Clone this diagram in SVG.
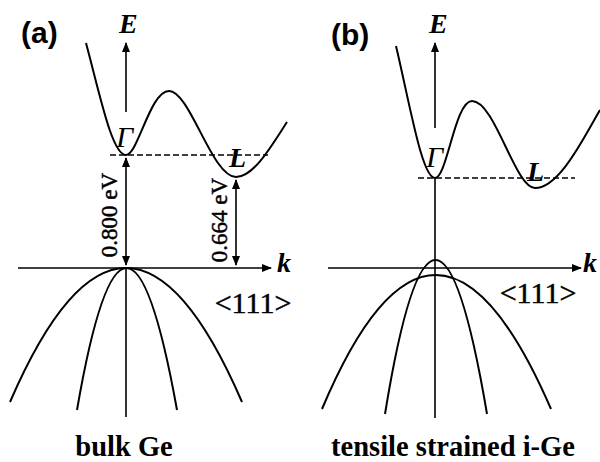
<svg xmlns="http://www.w3.org/2000/svg" width="600" height="462" viewBox="0 0 600 462">
<style>
.crv{fill:none;stroke:#000;stroke-width:2}
.ax{fill:none;stroke:#000;stroke-width:1.6}
.dash{fill:none;stroke:#000;stroke-width:1.3;stroke-dasharray:6 3}
.ser{font-family:'Liberation Serif','Times New Roman',Times,serif;fill:#000}
.hv{stroke:#000;stroke-width:0.5}
.it{font-style:italic}
.bd{font-weight:bold}
.lab{font-family:'Liberation Sans',Arial,sans-serif;font-weight:bold;font-size:30px;fill:#000}
</style>
<defs>
<marker id="ah" viewBox="0 0 10 8" refX="9" refY="4" markerWidth="10" markerHeight="8" markerUnits="userSpaceOnUse" orient="auto-start-reverse">
<path d="M0,0 L10,4 L0,8 Z" fill="#000"/>
</marker>
</defs>
<rect width="600" height="462" fill="#fff"/>

<g id="panel-a">
<text class="lab" x="21" y="43">(a)</text>
<g id="axes-a">
<line class="ax" x1="126" y1="112" x2="126" y2="43" marker-end="url(#ah)"/>
<line class="ax" x1="126" y1="268" x2="126" y2="417"/>
<line class="ax" x1="18" y1="268" x2="271" y2="268" marker-end="url(#ah)"/>
<text class="ser it bd" x="119" y="33" font-size="28">E</text>
<text class="ser it bd" x="277" y="272" font-size="28">k</text>
<text class="ser hv" x="253" y="313" font-size="30" text-anchor="middle">&lt;111&gt;</text>
</g>
<path class="crv" d="M86,43 C100,95 112,155 126,155 C138,155 150,91 169,91 C190,91 212,177 236,177 C254,177 272,145 287,122"/>
<line class="dash" x1="110" y1="155" x2="268" y2="155"/>
<text class="ser it" x="116" y="147" font-size="30">Γ</text>
<text class="ser it bd" x="229" y="167" font-size="28">L</text>
<g id="arrows-a">
<line class="ax" x1="126" y1="158" x2="126" y2="265" marker-start="url(#ah)" marker-end="url(#ah)"/>
<line class="ax" x1="236" y1="180" x2="236" y2="265" marker-start="url(#ah)" marker-end="url(#ah)"/>
</g>
<text class="ser hv" transform="translate(117,215) rotate(-90)" font-size="23" text-anchor="middle">0.800 eV</text>
<text class="ser hv" transform="translate(227,220) rotate(-90)" font-size="23" text-anchor="middle">0.664 eV</text>
<path class="crv" d="M10,402 Q126,134 242,402"/>
<path class="crv" d="M77,410 Q126,126 177,410"/>
<text class="ser bd" x="124" y="456" font-size="28.5" text-anchor="middle">bulk Ge</text>
</g>

<g id="panel-b">
<text class="lab" x="331" y="45">(b)</text>
<g id="axes-b">
<line class="ax" x1="435" y1="128" x2="435" y2="43" marker-end="url(#ah)"/>
<line class="ax" x1="435" y1="178" x2="435" y2="418"/>
<line class="ax" x1="328" y1="268" x2="581" y2="268" marker-end="url(#ah)"/>
<text class="ser it bd" x="429" y="33" font-size="28">E</text>
<text class="ser it bd" x="583" y="272" font-size="28">k</text>
<text class="ser hv" x="538" y="303" font-size="30" text-anchor="middle">&lt;111&gt;</text>
</g>
<path class="crv" d="M396,46 C410,105 422,178 435,178 C447,178 455,101 472,101 C495,101 515,188 535,188 C560,188 585,135 600,110"/>
<line class="dash" x1="418" y1="178" x2="575" y2="178"/>
<text class="ser it" x="426" y="167" font-size="30">Γ</text>
<text class="ser it bd" x="527" y="181" font-size="28">L</text>
<path class="crv" d="M385,414 Q435,106 487,414"/>
<path class="crv" d="M322,409 Q435,141 551,409"/>
<text class="ser bd" x="453" y="456" font-size="28.5" text-anchor="middle">tensile strained i-Ge</text>
</g>
</svg>
